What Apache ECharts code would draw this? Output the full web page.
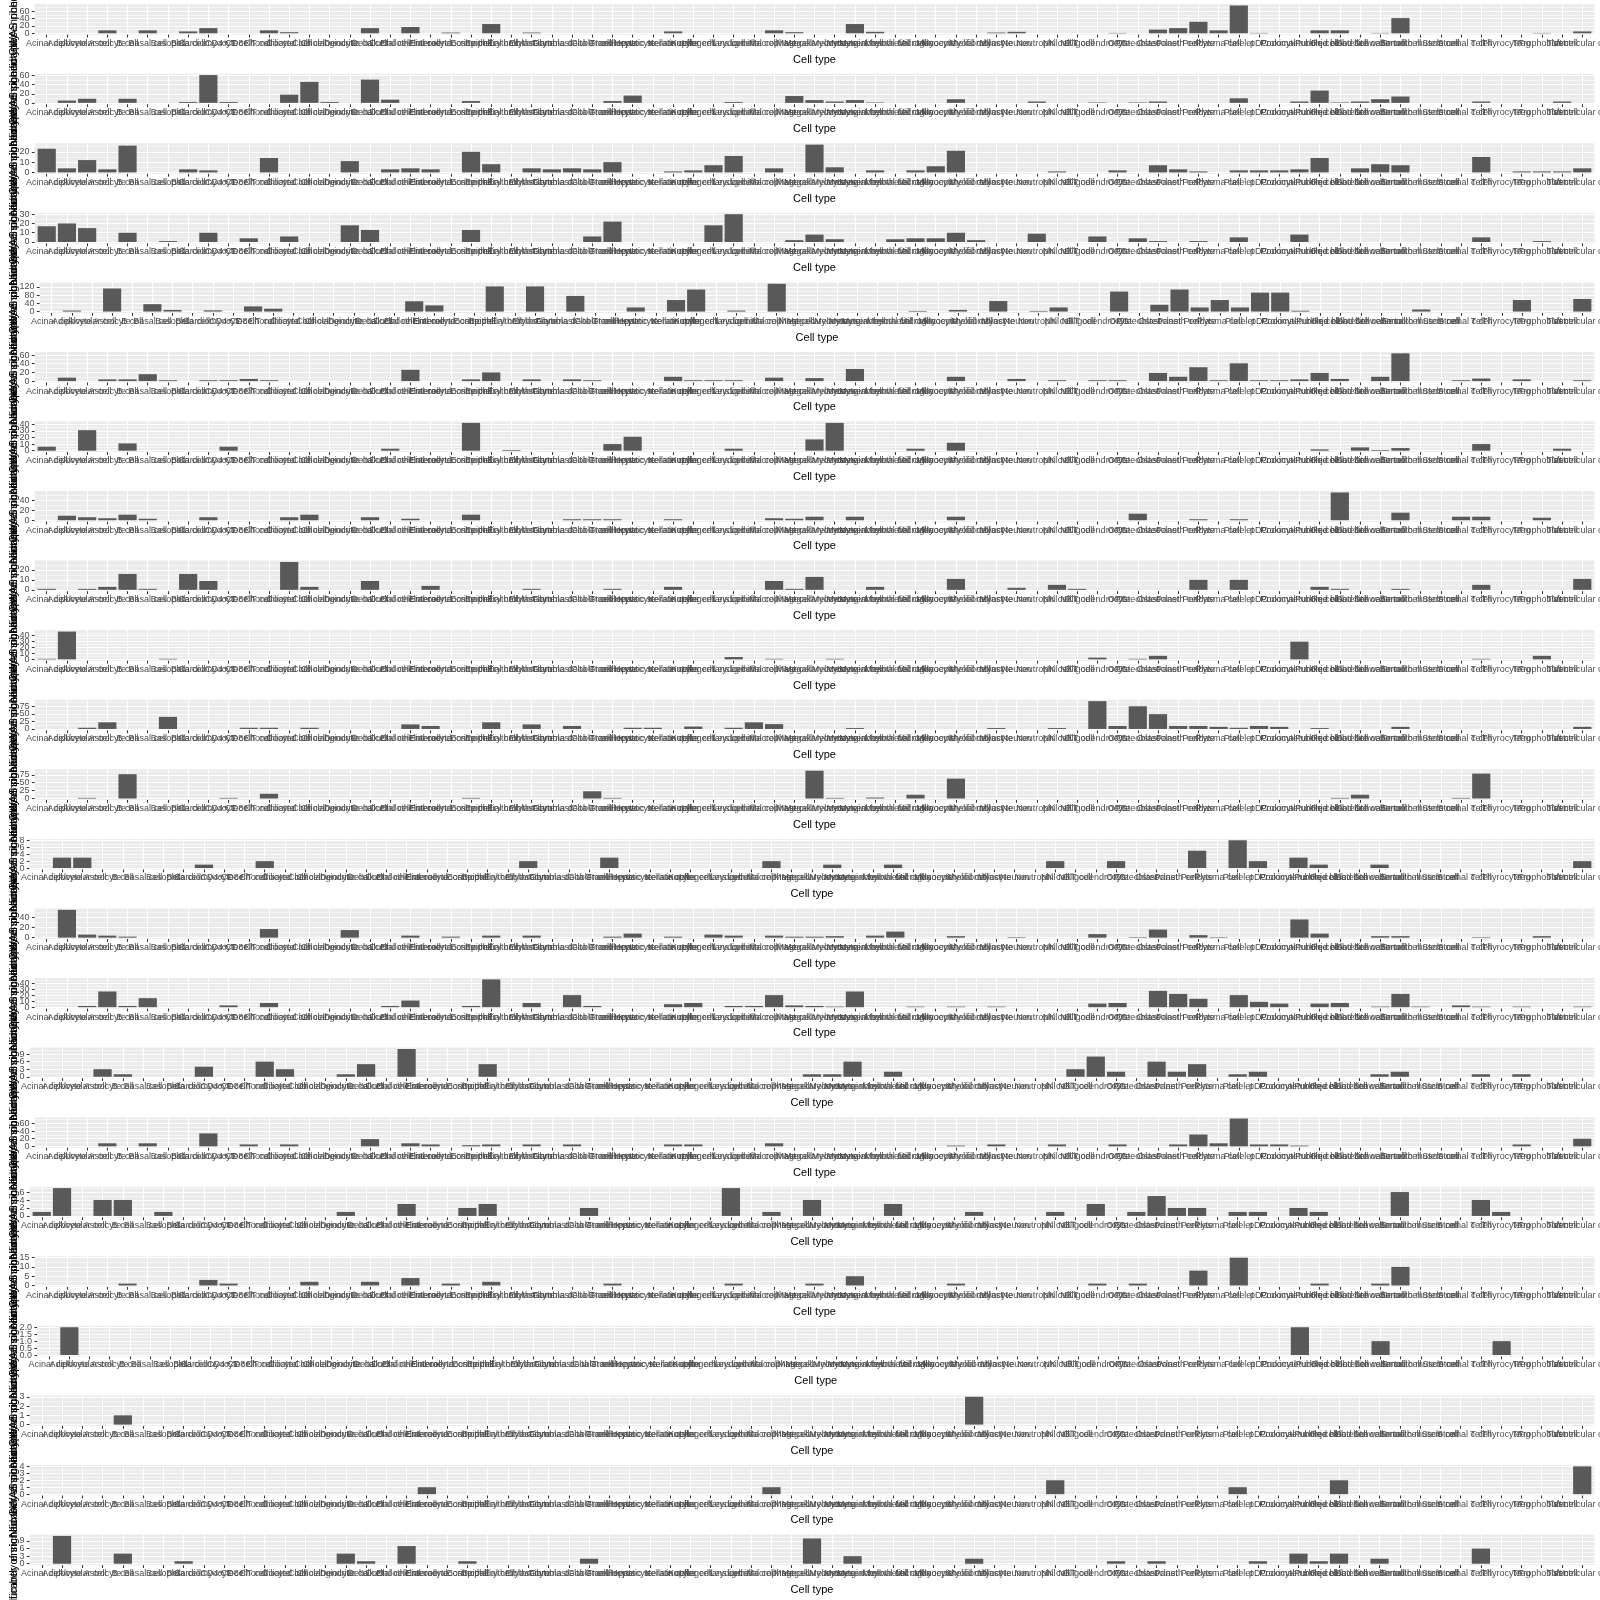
<!DOCTYPE html>
<html>
<head>
<meta charset="utf-8">
<script src="https://cdn.jsdelivr.net/npm/echarts@6/dist/echarts.min.js"></script>
<style>
html,body{margin:0;padding:0;background:#ffffff;}
#chart{width:1600px;height:1600px;}
</style>
</head>
<body>
<div id="chart"></div>
<script>
// ---------------- data ----------------
const cellTypes = [
  "Acinar cell","Adipocyte","Alveolar cell","Astrocyte","B cell","Basal cell","Basophil","Beta cell","Cardiomyocyte","CD4+ T cell",
  "CD8+ T cell","Chondrocyte","Ciliated cell","Club cell","Cholangiocyte","Dendritic cell","Delta cell","Ductal cell","Endothelial cell","Enterocyte",
  "Enteroendocrine cell","Eosinophil","Epithelial cell","Erythroblast","Erythrocyte","Fibroblast","Gamma delta T cell","Goblet cell","Granulocyte","Hepatocyte",
  "Hepatic stellate cell","Keratinocyte","Kupffer cell","Langerhans cell","Leydig cell","Luminal cell","Macrophage","Mast cell","Megakaryocyte","Melanocyte",
  "Mesangial cell","Mesenchymal cell","Mesothelial cell","Microglia","Monocyte","Myoepithelial cell","Myofibroblast","Myocyte","Neuron","Neutrophil",
  "NK cell","NKT cell","Oligodendrocyte","OPC","Osteoblast","Osteoclast","Paneth cell","Pericyte","Plasma cell","Platelet",
  "pDC","Podocyte","Proximal tubule cell","Purkinje cell","Red blood cell","Satellite cell","Schwann cell","Sertoli cell","Smooth muscle cell","Stem cell",
  "Stromal cell","T cell","Thyrocyte","Treg","Trophoblast","Tuft cell","Ventricular cell"
];
const xTitle = "Cell type";
const yTitle = "Number of significantly enriched GWAS phenotypes";

const panel01 = [0,0,0,8,0,8,0,5,14,0, 0,8,3,0,0,0,14,0,17,0, 2,0,25,0,2,0,0,0,0,0, 0,5,0,0,0,0,8,3,0,0, 25,4,0,0,0,0,0,2,4,0, 0,0,0,1,0,10,14,31,8,75, 1,0,0,8,8,0,1,41,0,0, 0,0,0,0,1,0,5];
const panel02 = [0,5,9,0,9,0,0,2,61,2, 0,0,18,46,2,0,51,7,0,0, 0,4,0,0,0,0,0,0,4,16, 0,0,0,0,2,0,0,15,6,3, 6,1,0,0,0,8,0,0,0,3, 0,0,1,0,1,3,0,0,0,10, 0,0,3,27,1,3,8,14,0,0, 0,3,0,0,0,3,0];
const panel03 = [23,4,12,3,26,0,0,3,2,0, 0,14,0,0,0,11,0,3,4,3, 0,20,8,0,4,3,4,3,10,0, 0,1,2,7,16,0,4,0,27,5, 0,2,0,2,6,21,0,0,0,0, 1,0,0,2,0,7,3,1,0,2, 2,2,3,14,0,4,8,7,0,0, 0,15,0,1,1,1,4];
const panel04 = [17,20,15,0,10,0,1,0,10,0, 4,0,6,0,0,18,13,0,0,0, 0,13,0,0,0,0,0,6,22,0, 0,0,0,18,30,0,0,2,8,3, 0,0,3,4,4,10,2,0,0,9, 0,0,6,0,4,1,0,1,0,5, 0,0,8,0,0,0,0,0,0,0, 0,5,0,0,1,0,0];
const panel05 = [0,5,0,112,0,36,8,0,6,0, 25,14,0,0,0,0,0,0,50,30, 0,0,122,0,122,0,76,0,0,20, 0,56,107,0,5,0,135,0,0,0, 0,0,0,3,0,8,0,51,0,3, 20,0,0,97,0,33,107,20,56,20, 92,92,4,0,0,0,0,0,10,0, 0,0,0,56,0,0,61];
const panel06 = [0,8,0,4,4,16,2,0,2,2, 5,2,0,0,0,0,0,0,26,0, 0,4,20,0,4,0,4,2,0,0, 0,10,2,2,2,0,8,0,7,0, 28,0,0,0,0,10,0,0,5,0, 2,0,2,2,0,19,10,32,2,41, 2,2,4,19,5,0,10,64,0,0, 2,6,0,4,0,0,2];
const panel07 = [6,0,31,0,11,0,0,0,0,6, 0,0,0,0,0,0,0,3,0,0, 0,42,0,1,0,0,0,0,10,21, 0,0,0,0,3,0,0,0,17,42, 0,0,0,3,0,12,0,0,0,0, 0,0,0,0,0,0,0,0,0,0, 0,0,0,2,0,5,1,4,0,0, 0,10,0,0,0,3,0];
const panel08 = [0,9,6,4,11,3,0,0,6,0, 0,0,6,11,0,0,6,0,3,0, 0,11,0,0,0,0,2,2,2,0, 0,2,0,0,0,0,4,3,7,0, 7,0,0,0,0,7,0,0,0,0, 0,0,0,0,13,0,0,2,0,2, 0,0,0,0,55,0,0,15,0,0, 7,7,0,0,5,0,0];
const panel09 = [1,0,1,3,16,1,0,16,9,0, 0,0,28,3,0,0,9,0,0,4, 0,0,0,0,1,0,0,0,1,0, 0,3,0,0,0,0,9,1,13,0, 0,3,0,0,0,11,0,0,2,0, 5,1,0,0,0,0,0,10,0,10, 0,0,0,3,1,0,0,1,0,0, 0,5,0,0,0,0,11];
const panel10 = [1,47,0,0,0,0,1,0,0,0, 0,0,0,0,0,0,0,0,0,0, 0,0,0,0,0,0,0,0,0,0, 0,0,0,0,4,0,1,0,0,1, 0,0,0,0,0,0,0,0,0,0, 0,0,3,0,1,6,0,0,0,0, 0,0,30,0,0,0,0,0,0,0, 0,1,0,0,6,0,0];
const panel11 = [0,0,4,22,0,0,40,0,0,0, 4,4,0,4,0,0,0,0,15,10, 0,0,22,0,15,0,10,0,0,4, 4,0,8,0,4,22,16,0,0,0, 3,0,0,0,0,0,0,3,0,0, 3,0,92,10,75,49,10,10,7,4, 10,7,0,3,0,0,0,7,0,0, 0,0,0,0,0,0,7];
const panel12 = [0,0,2,0,77,0,0,0,0,2, 0,15,0,0,0,0,0,0,0,0, 0,2,0,0,0,0,0,23,2,0, 0,0,0,0,0,0,0,0,88,2, 0,3,0,12,0,63,0,0,0,0, 0,0,0,0,0,0,0,0,0,0, 0,0,0,0,2,12,0,0,0,0, 2,79,0,0,0,0,0];
const panel13 = [0,3,3,0,0,0,0,0,1,0, 0,2,0,0,0,0,0,0,0,0, 0,0,0,0,2,0,0,0,3,0, 0,0,0,0,0,0,2,0,0,1, 0,0,1,0,0,0,0,0,0,0, 2,0,0,2,0,0,0,5,0,8, 2,0,3,1,0,0,1,0,0,0, 0,0,0,0,0,0,2];
const panel14 = [0,55,6,4,2,0,0,0,0,0, 0,17,0,0,0,15,0,0,4,0, 2,0,4,0,4,0,0,0,2,8, 0,2,0,6,4,0,4,2,2,3, 0,4,12,0,0,3,0,0,1,0, 0,0,7,0,1,16,0,5,1,0, 0,0,36,8,0,0,3,3,0,0, 0,1,0,0,3,0,0];
const panel15 = [0,0,2,26,2,15,0,0,0,3, 0,7,0,0,0,0,0,2,11,0, 0,2,46,0,7,0,20,2,0,0, 0,5,7,0,2,2,20,3,2,1, 26,0,0,1,0,1,0,1,0,0, 0,0,6,7,0,27,22,14,0,20, 9,6,0,6,7,0,1,22,1,0, 3,1,0,1,0,0,1];
const panel16 = [0,0,0,3,1,0,0,0,4,0, 0,6,3,0,0,1,5,0,11,0, 0,0,5,0,0,0,0,0,0,0, 0,0,0,0,0,0,0,0,1,1, 6,0,2,0,0,0,0,0,0,0, 0,3,8,2,0,6,2,5,0,1, 2,0,0,0,0,0,1,2,0,0, 0,1,0,1,0,0,0];
const panel17 = [0,0,0,8,0,8,0,0,34,0, 5,0,5,0,0,0,19,0,8,5, 0,3,5,0,5,0,5,0,0,0, 0,5,5,0,0,0,8,0,0,0, 0,0,0,0,0,2,0,5,0,0, 5,0,0,5,0,0,5,31,8,73, 5,5,2,0,0,0,0,0,0,0, 0,0,0,5,0,0,20];
const panel18 = [1,7,0,4,4,0,1,0,0,0, 0,0,0,0,0,1,0,0,3,0, 0,2,3,0,0,0,0,2,0,0, 0,0,0,0,7,0,1,0,4,0, 0,0,3,0,0,0,1,0,0,0, 1,0,3,0,1,5,2,2,0,1, 1,0,2,1,0,0,0,6,0,0, 0,4,1,0,0,0,0];
const panel19 = [0,0,0,0,1,0,0,0,3,1, 0,0,0,2,0,0,2,0,4,0, 1,0,2,0,0,0,0,0,1,0, 0,0,0,0,1,0,0,0,1,0, 5,0,0,0,0,1,0,0,0,0, 0,0,1,0,1,0,0,8,0,15, 0,0,0,1,0,0,1,10,0,0, 0,0,0,0,0,0,0];
const panel20 = [0,2,0,0,0,0,0,0,0,0, 0,0,0,0,0,0,0,0,0,0, 0,0,0,0,0,0,0,0,0,0, 0,0,0,0,0,0,0,0,0,0, 0,0,0,0,0,0,0,0,0,0, 0,0,0,0,0,0,0,0,0,0, 0,0,2,0,0,0,1,0,0,0, 0,0,1,0,0,0,0];
const panel21 = [0,0,0,0,1,0,0,0,0,0, 0,0,0,0,0,0,0,0,0,0, 0,0,0,0,0,0,0,0,0,0, 0,0,0,0,0,0,0,0,0,0, 0,0,0,0,0,0,3,0,0,0, 0,0,0,0,0,0,0,0,0,0, 0,0,0,0,0,0,0,0,0,0, 0,0,0,0,0,0,0];
const panel22 = [0,0,0,0,0,0,0,0,0,0, 0,0,0,0,0,0,0,0,0,1, 0,0,0,0,0,0,0,0,0,0, 0,0,0,0,0,0,1,0,0,0, 0,0,0,0,0,0,0,0,0,0, 2,0,0,0,0,0,0,0,0,1, 0,0,0,0,2,0,0,0,0,0, 0,0,0,0,0,0,4];
const panel23 = [0,11,0,0,4,0,0,1,0,0, 0,0,0,0,0,4,1,0,7,0, 0,1,0,0,0,0,0,2,0,0, 0,0,0,0,0,0,0,0,10,0, 3,0,0,0,0,0,2,0,0,0, 0,0,0,1,0,1,0,0,0,0, 1,0,4,1,4,0,2,0,0,0, 0,6,0,0,0,0,0];

const panels = [panel01,panel02,panel03,panel04,panel05,panel06,panel07,panel08,panel09,panel10,panel11,panel12,
                panel13,panel14,panel15,panel16,panel17,panel18,panel19,panel20,panel21,panel22,panel23];

// y-axis tick labels (breaks) of each panel
const yBreaks = [
  [0,20,40,60],[0,20,40,60],[0,10,20],[0,10,20,30],[0,40,80,120],[0,20,40,60],[0,10,20,30,40],[0,20,40],
  [0,10,20],[0,10,20,30,40],[0,25,50,75],[0,25,50,75],[0,2,4,6,8],[0,20,40],[0,10,20,30,40],[0,3,6,9],
  [0,20,40,60],[0,2,4,6],[0,5,10,15],[0,0.5,1,1.5,2],[0,1,2,3],[0,1,2,3,4],[0,3,6,9]
];

// ---------------- layout / style ----------------
const FONT = "'Liberation Sans', Arial, Helvetica, sans-serif";
const NPLOT = panels.length;
const PLOT_H = 1600 / NPLOT;
const PANEL_TOP = 4.1;
const PANEL_H = 30.6;
const RIGHT = 1594.4;
const BASE_LEFT = 34.6;
const TICK_FONT = 9;
const TITLE_FONT = 11;
const TICK_STYLE = { color: '#333333', width: 1.07 };
const LABEL_GROUPS = 3;   // y labels are spread over a few axes so none of them gets hidden

const mctx = document.createElement('canvas').getContext('2d');
mctx.font = TICK_FONT + 'px ' + FONT;
const refW = mctx.measureText('60').width;

const catTicks = cellTypes.map((c, j) => j + 1);

const grids = [], xAxes = [], yAxes = [], series = [];

panels.forEach((vals, i) => {
  const M = Math.max.apply(null, vals);
  const lo = -0.05 * M, hi = 1.05 * M;
  const br = yBreaks[i];
  const step = br[1] - br[0];
  const dec = br.some(v => !Number.isInteger(v)) ? 1 : 0;
  const labW = Math.max.apply(null, br.map(v => mctx.measureText(v.toFixed(dec)).width));
  const L = BASE_LEFT + labW - refW;
  const T = i * PLOT_H + PANEL_TOP;
  const W = RIGHT - L;
  const s = W / 77.2;              // width of one category (ggplot discrete expansion 0.6)
  const minors = [];
  for (let v = br[0] - step / 2; v <= hi + 1e-9; v += step) { if (v >= lo) minors.push(v); }

  const gMain = grids.length;
  grids.push({
    left: L, top: T, width: W, height: PANEL_H,
    show: true, backgroundColor: '#EBEBEB', borderWidth: 0,
    containLabel: false, outerBoundsMode: 'none'
  });
  const gCat = grids.length;
  grids.push({
    left: L + 0.1 * s, top: T, width: 77 * s, height: PANEL_H,
    show: false, containLabel: false, outerBoundsMode: 'none'
  });

  const xMain = xAxes.length;
  xAxes.push({
    type: 'value', gridIndex: gMain, min: 0.4, max: 77.6, position: 'bottom',
    name: xTitle, nameLocation: 'middle', nameGap: 19.3, nameMoveOverlap: false,
    nameTextStyle: { fontFamily: FONT, fontSize: TITLE_FONT, color: '#000000' },
    axisLine: { show: false, onZero: false },
    axisTick: { show: false, customValues: catTicks },
    axisLabel: { show: false, customValues: catTicks },
    splitLine: { show: true, lineStyle: { color: '#FFFFFF', width: 1.07 } }
  });
  xAxes.push({
    type: 'category', gridIndex: gCat, data: cellTypes, boundaryGap: true, position: 'bottom',
    axisLine: { show: false, onZero: false },
    axisTick: { show: true, alignWithLabel: true, interval: 0, length: 2.8, lineStyle: TICK_STYLE },
    axisLabel: { show: true, interval: 0, margin: 4, hideOverlap: false,
      fontFamily: FONT, fontSize: TICK_FONT, color: '#4D4D4D' },
    splitLine: { show: false }
  });

  // major grid lines + axis title
  const yMain = yAxes.length;
  yAxes.push({
    type: 'value', gridIndex: gMain, min: lo, max: hi, position: 'left',
    name: yTitle, nameLocation: 'middle', nameGap: L - 19, nameMoveOverlap: false,
    nameTextStyle: { fontFamily: FONT, fontSize: TITLE_FONT, color: '#000000' },
    axisLine: { show: false, onZero: false },
    axisTick: { show: false, customValues: br },
    axisLabel: { show: false, customValues: br },
    splitLine: { show: true, lineStyle: { color: '#FFFFFF', width: 1.07 } }
  });
  // minor grid lines
  yAxes.push({
    type: 'value', gridIndex: gMain, min: lo, max: hi, position: 'left',
    axisLine: { show: false, onZero: false },
    axisTick: { show: false, customValues: minors },
    axisLabel: { show: false, customValues: minors },
    splitLine: { show: true, lineStyle: { color: '#FFFFFF', width: 0.53 } }
  });
  // tick labels and tick marks, spread over several axes
  for (let g = 0; g < LABEL_GROUPS; g++) {
    const sub = br.filter((v, j) => j % LABEL_GROUPS === g);
    if (!sub.length) continue;
    yAxes.push({
      type: 'value', gridIndex: gMain, min: lo, max: hi, position: 'left', offset: 0,
      axisLine: { show: false, onZero: false },
      axisTick: { show: true, customValues: sub, length: 2.8, lineStyle: TICK_STYLE },
      axisLabel: {
        show: true, customValues: sub, margin: 5, hideOverlap: false,
        showMinLabel: true, showMaxLabel: true,
        fontFamily: FONT, fontSize: TICK_FONT, color: '#4D4D4D',
        formatter: v => Number(v).toFixed(dec)
      },
      splitLine: { show: false }
    });
  }
  yAxes.push({ type: 'value', gridIndex: gCat, min: lo, max: hi, show: false });

  series.push({
    type: 'bar', xAxisIndex: xMain, yAxisIndex: yMain,
    data: vals.map((v, j) => [j + 1, v]),
    barWidth: 0.9 * s,
    itemStyle: { color: '#595959' },
    silent: true
  });
});

const chart = echarts.init(document.getElementById('chart'), null, { renderer: 'canvas', width: 1600, height: 1600 });
chart.setOption({
  animation: false,
  backgroundColor: '#FFFFFF',
  textStyle: { fontFamily: FONT },
  grid: grids,
  xAxis: xAxes,
  yAxis: yAxes,
  series: series
});
</script>
</body>
</html>
